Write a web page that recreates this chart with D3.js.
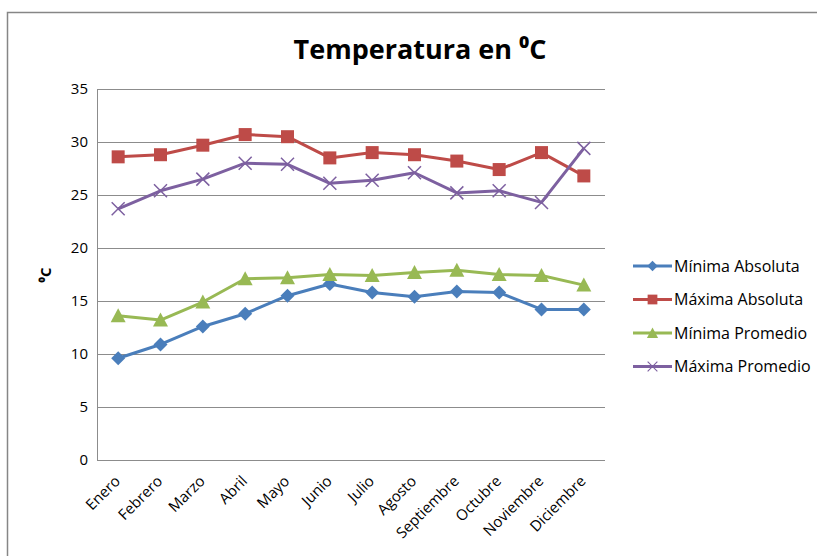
<!DOCTYPE html>
<meta charset="utf-8">
<script src="https://d3js.org/d3.v7.min.js"></script>
<style>
  body { margin: 0; background: #fff; }
  text { font-family: "Open Sans", sans-serif; fill: #000; }
</style>
<div id="my_dataviz"></div>
<script>

// data
var months = ["Enero", "Febrero", "Marzo", "Abril", "Mayo", "Junio", "Julio", "Agosto", "Septiembre", "Octubre", "Noviembre", "Diciembre"]
var minAbs = [9.6, 10.9, 12.6, 13.8, 15.5, 16.6, 15.8, 15.4, 15.9, 15.8, 14.2, 14.2]
var maxAbs = [28.6, 28.8, 29.7, 30.7, 30.5, 28.5, 29.0, 28.8, 28.2, 27.4, 29.0, 26.8]
var minProm = [13.6, 13.2, 14.9, 17.1, 17.2, 17.5, 17.4, 17.7, 17.9, 17.5, 17.4, 16.5]
var maxProm = [23.7, 25.4, 26.5, 28.0, 27.9, 26.1, 26.4, 27.1, 25.2, 25.4, 24.3, 29.4]
var yTicks = [0, 5, 10, 15, 20, 25, 30, 35]

var series = [
  {name: "Mínima Absoluta", values: minAbs, color: "#4A7EBB", marker: "diamond"},
  {name: "Máxima Absoluta", values: maxAbs, color: "#BE4B48", marker: "square"},
  {name: "Mínima Promedio", values: minProm, color: "#98B954", marker: "triangle"},
  {name: "Máxima Promedio", values: maxProm, color: "#7D60A0", marker: "cross"}
]

var W = 817, H = 556
var margin = {top: 89, right: 212, bottom: 96, left: 97},
  width = W - margin.left - margin.right,
  height = H - margin.top - margin.bottom

var root = d3.select("#my_dataviz")
  .append("svg")
    .attr("width", W)
    .attr("height", H)

// outer chart frame
root.append("rect")
  .attr("x", 7.5).attr("y", 12.5)
  .attr("width", W + 20).attr("height", H + 20)
  .attr("fill", "none")
  .attr("stroke", "#868686")
  .attr("stroke-width", 1.5)

var svg = root.append("g")
  .attr("transform", "translate(" + margin.left + "," + margin.top + ")")

var x = d3.scaleBand()
  .domain(months)
  .range([0, width])

var y = d3.scaleLinear()
  .domain([0, 35])
  .range([height, 0])

// gridlines
svg.append("g")
  .selectAll("line")
  .data(yTicks)
  .enter()
  .append("line")
    .attr("x1", 0)
    .attr("x2", width)
    .attr("y1", function(d) { return Math.round(y(d)) + 0.5 })
    .attr("y2", function(d) { return Math.round(y(d)) + 0.5 })
    .attr("stroke", "#8c8c8c")
    .attr("stroke-width", 1)

// left axis line
svg.append("line")
  .attr("x1", 0.5).attr("x2", 0.5)
  .attr("y1", 0).attr("y2", height)
  .attr("stroke", "#8c8c8c")

// y axis labels
var yAxis = svg.append("g")
  .call(d3.axisLeft(y).tickValues(yTicks).tickSize(0).tickPadding(9))
yAxis.select(".domain").remove()
yAxis.selectAll("text")
  .style("font-size", "15px")
  .style("font-family", "Open Sans, sans-serif")

// x axis labels
var xAxis = svg.append("g")
  .attr("transform", "translate(0," + height + ")")
  .call(d3.axisBottom(x).tickSize(0).tickPadding(0))
xAxis.select(".domain").remove()
xAxis.selectAll("text")
  .style("font-size", "15px")
  .style("font-family", "Open Sans, sans-serif")
  .attr("text-anchor", "end")
  .attr("dy", 0)
  .attr("transform", "translate(3,22) rotate(-45)")

// lines
var line = d3.line()
  .x(function(d, i) { return x(months[i]) + x.bandwidth() / 2 })
  .y(function(d) { return y(d) })

function drawMarker(g, type, color) {
  if (type === "diamond") {
    g.append("path").attr("d", "M0,-7L7,0L0,7L-7,0Z").attr("fill", color)
  } else if (type === "square") {
    g.append("rect").attr("x", -6.5).attr("y", -6.5).attr("width", 13).attr("height", 13).attr("fill", color)
  } else if (type === "triangle") {
    g.append("path").attr("d", "M0,-7.5L7.5,6.5L-7.5,6.5Z").attr("fill", color)
  } else {
    g.append("path").attr("d", "M-6.5,-6.5L6.5,6.5M-6.5,6.5L6.5,-6.5")
      .attr("stroke", color).attr("stroke-width", 1.5).attr("fill", "none")
  }
}

series.forEach(function(s) {
  svg.append("path")
    .datum(s.values)
    .attr("d", line)
    .attr("fill", "none")
    .attr("stroke", s.color)
    .attr("stroke-width", 3)
    .attr("stroke-linejoin", "round")

  svg.selectAll(null)
    .data(s.values)
    .enter()
    .append("g")
      .attr("transform", function(d, i) {
        return "translate(" + (x(months[i]) + x.bandwidth() / 2) + "," + y(d) + ")"
      })
      .each(function() { drawMarker(d3.select(this), s.marker, s.color) })
})

// title
root.append("text")
  .attr("x", 420)
  .attr("y", 59)
  .attr("text-anchor", "middle")
  .style("font-size", "27px")
  .style("font-weight", "bold")
  .text("Temperatura en ⁰C")

// y axis title
root.append("text")
  .attr("transform", "translate(51,275) rotate(-90)")
  .attr("text-anchor", "middle")
  .style("font-size", "15px")
  .style("font-weight", "bold")
  .text("⁰C")

// legend
var legend = root.append("g")
  .attr("transform", "translate(633,266)")
series.forEach(function(s, i) {
  var row = legend.append("g").attr("transform", "translate(0," + (i * 33.5) + ")")
  row.append("line")
    .attr("x1", 0).attr("x2", 39)
    .attr("stroke", s.color).attr("stroke-width", 3)
  var m = row.append("g").attr("transform", "translate(19.5,0) scale(0.75)")
  drawMarker(m, s.marker, s.color)
  row.append("text")
    .attr("x", 41)
    .attr("y", 5.5)
    .style("font-size", "16px")
    .text(s.name)
})

</script>
